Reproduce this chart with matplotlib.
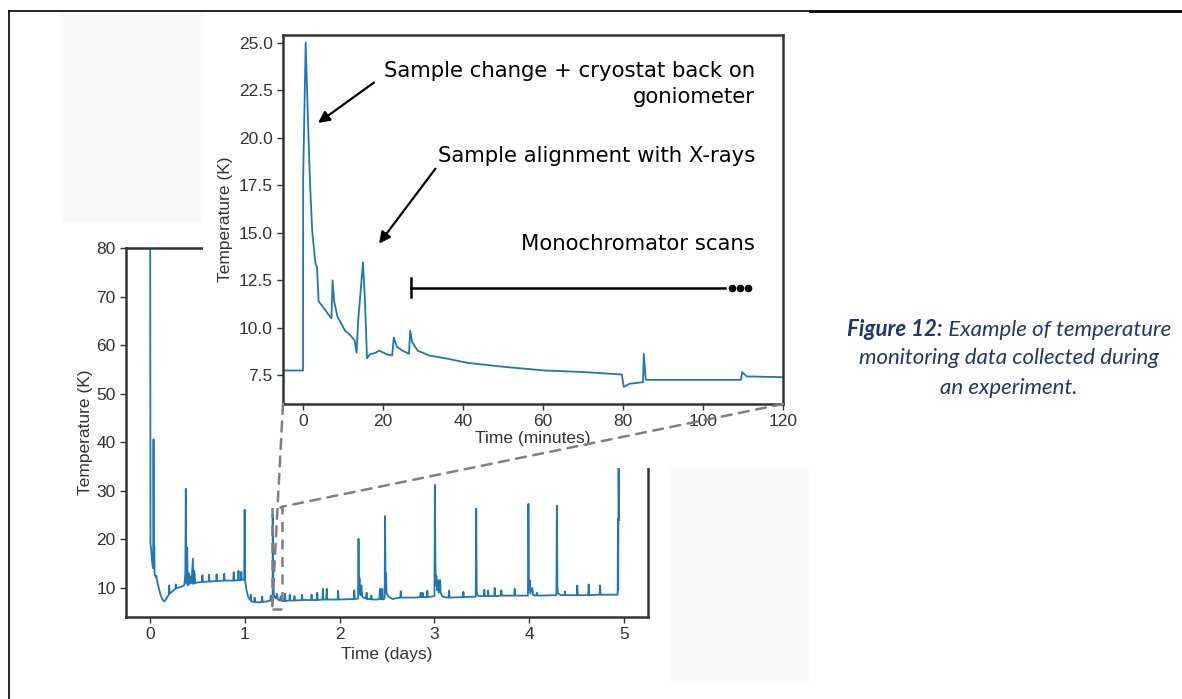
import matplotlib
matplotlib.use("Agg")
import matplotlib.pyplot as plt
from matplotlib.patches import Rectangle, ConnectionPatch
from matplotlib.lines import Line2D

W, H = 1182, 699

# main series: time in days, temperature in K
days = [0.005, 0.008, 0.015, 0.02, 0.03, 0.038, 0.040, 0.043, 0.048, 0.052,
        0.06, 0.07, 0.08, 0.095, 0.11, 0.13, 0.15, 0.165, 0.18, 0.20,
        0.205, 0.21, 0.24, 0.27, 0.275, 0.28, 0.31, 0.33, 0.35, 0.365,
        0.375, 0.38, 0.385, 0.39, 0.395, 0.40, 0.41, 0.42, 0.43, 0.44,
        0.455, 0.46, 0.47, 0.48, 0.50, 0.55, 0.555, 0.56, 0.62, 0.625,
        0.63, 0.70, 0.705, 0.71, 0.78, 0.785, 0.79, 0.88, 0.885, 0.89,
        0.93, 0.935, 0.94, 0.96, 0.965, 0.97, 0.995, 1.0, 1.005, 1.02,
        1.04, 1.06, 1.065, 1.07, 1.10, 1.105, 1.11, 1.15, 1.18, 1.185,
        1.19, 1.23, 1.27, 1.275, 1.28, 1.295, 1.2955, 1.30, 1.305, 1.31,
        1.33, 1.34, 1.35, 1.37, 1.38, 1.39, 1.42, 1.425, 1.43, 1.47,
        1.475, 1.48, 1.52, 1.525, 1.53, 1.60, 1.605, 1.61, 1.70, 1.705,
        1.71, 1.76, 1.765, 1.77, 1.82, 1.825, 1.83, 1.86, 1.865, 1.87,
        1.98, 1.985, 1.99, 2.15, 2.155, 2.16, 2.195, 2.20, 2.205, 2.21,
        2.215, 2.22, 2.23, 2.24, 2.25, 2.28, 2.285, 2.29, 2.33, 2.335,
        2.34, 2.40, 2.42, 2.425, 2.43, 2.445, 2.45, 2.455, 2.475, 2.48,
        2.485, 2.49, 2.495, 2.51, 2.53, 2.56, 2.60, 2.64, 2.645, 2.65,
        2.80, 2.85, 2.855, 2.86, 2.87, 2.875, 2.88, 2.92, 2.925, 2.93,
        3.00, 3.005, 3.01, 3.015, 3.02, 3.03, 3.04, 3.045, 3.06, 3.065,
        3.08, 3.10, 3.15, 3.155, 3.16, 3.30, 3.305, 3.31, 3.435, 3.44,
        3.445, 3.45, 3.47, 3.52, 3.525, 3.53, 3.56, 3.565, 3.57, 3.63,
        3.635, 3.64, 3.70, 3.705, 3.71, 3.84, 3.845, 3.85, 3.985, 3.99,
        3.995, 4.0, 4.005, 4.01, 4.03, 4.04, 4.07, 4.08, 4.09, 4.285,
        4.29, 4.295, 4.30, 4.32, 4.35, 4.37, 4.375, 4.38, 4.50, 4.505,
        4.51, 4.62, 4.625, 4.63, 4.74, 4.745, 4.75, 4.93, 4.933, 4.936,
        4.94, 4.945]
temps = [80.0, 19.0, 18.0, 16.5, 14.5, 14.0, 40.6, 14.2, 18.5, 13.0,
         12.3, 12.5, 11.2, 10.0, 8.8, 7.8, 7.2, 7.5, 7.9, 8.6,
         10.5, 8.8, 9.3, 9.8, 10.7, 9.9, 10.1, 10.2, 10.4, 10.6,
         13.0, 30.4, 11.0, 12.5, 18.3, 10.5, 13.0, 10.8, 12.4, 11.0,
         16.0, 10.8, 13.5, 11.0, 11.1, 11.2, 12.6, 11.2, 11.3, 12.7,
         11.3, 11.4, 12.8, 11.4, 11.5, 12.9, 11.5, 11.5, 13.2, 11.5,
         11.6, 13.5, 11.6, 11.6, 13.3, 11.7, 11.7, 26.1, 11.5, 9.5,
         8.0, 7.5, 8.6, 7.2, 7.1, 8.0, 7.1, 7.0, 7.1, 8.2,
         7.1, 7.2, 7.4, 8.4, 7.6, 7.75, 25.0, 14.0, 9.5, 8.3,
         7.8, 8.8, 7.6, 7.4, 8.3, 7.3, 7.3, 8.8, 7.3, 7.4,
         8.6, 7.4, 7.4, 8.3, 7.4, 7.5, 8.6, 7.5, 7.5, 8.6,
         7.5, 7.5, 9.0, 7.5, 7.6, 9.8, 7.6, 7.6, 9.8, 7.6,
         7.6, 9.4, 7.6, 7.7, 9.5, 7.7, 7.8, 20.1, 9.0, 12.0,
         9.5, 8.5, 10.5, 8.2, 8.0, 7.8, 9.0, 7.7, 7.7, 8.4,
         7.6, 7.6, 7.7, 9.8, 7.7, 7.7, 9.8, 7.6, 7.8, 24.8,
         9.5, 13.0, 8.8, 8.4, 8.0, 7.7, 7.9, 8.0, 9.3, 8.0,
         8.0, 8.1, 9.0, 8.1, 8.1, 9.0, 8.1, 8.1, 9.4, 8.1,
         8.3, 31.2, 15.6, 10.5, 12.5, 9.5, 11.6, 9.0, 11.6, 9.0,
         8.3, 8.1, 8.0, 9.4, 8.0, 8.1, 9.2, 8.1, 8.2, 26.3,
         9.5, 8.6, 8.3, 8.3, 9.6, 8.3, 8.3, 9.5, 8.3, 8.3,
         10.0, 8.3, 8.4, 9.5, 8.4, 8.4, 9.8, 8.4, 8.4, 27.3,
         12.5, 9.5, 11.5, 8.8, 10.0, 8.5, 8.4, 9.0, 8.4, 8.5,
         26.9, 10.5, 9.0, 8.6, 8.5, 8.5, 9.3, 8.5, 8.5, 10.5,
         8.5, 8.5, 10.7, 8.5, 8.6, 10.5, 8.6, 8.6, 24.2, 9.5,
         34.7, 24.0]

# inset series: time in minutes, temperature in K
minutes = [-5.0, 0.0, 0.05, 0.67, 1.35, 1.8, 2.3, 3.1, 3.5, 3.9,
           5.7, 7.1, 7.4, 7.8, 8.6, 10.5, 11.9, 12.9, 13.4, 13.8,
           15.0, 15.5, 16.0, 16.7, 18.2, 19.1, 20.1, 21.1, 22.3, 22.7,
           23.5, 24.9, 26.5, 26.8, 27.3, 28.7, 31.6, 36.4, 41.2, 50.9,
           60.5, 70.1, 79.7, 80.2, 81.6, 85.0, 85.2, 85.7, 109.5, 109.8,
           110.9, 120.0]
temps_inset = [7.76, 7.76, 18.0, 25.0, 20.2, 17.4, 15.1, 13.4, 13.2, 11.4,
               10.9, 10.5, 12.5, 11.4, 10.6, 9.86, 9.6, 9.34, 8.7, 10.4,
               13.45, 11.4, 8.4, 8.6, 8.7, 8.8, 8.7, 8.6, 8.55, 9.5,
               9.0, 8.8, 8.64, 9.86, 9.25, 8.8, 8.55, 8.37, 8.16, 7.94,
               7.76, 7.68, 7.55, 6.9, 7.06, 7.15, 8.64, 7.27, 7.27, 7.68,
               7.45, 7.41]

notes = ["Sample change + cryostat back on\ngoniometer",
         "Sample alignment with X-rays",
         "Monochromator scans"]
scan_start, scan_end, scan_level = 27.0, 105.5, 12.12
dots_x = [107.3, 109.3, 111.3]

caption_bold = "Figure 12:"
caption_lines = [" Example of temperature",
                 "monitoring data collected during",
                 "an experiment."]

line_color = "#1f77b4"
spine_color = "#333333"
tick_font = ["Liberation Sans", "DejaVu Sans"]
label_size = 12.5


def fx(px):
    return px / W


def fy(py):
    return 1 - py / H


def style_axes(ax):
    for sp in ax.spines.values():
        sp.set_color(spine_color)
        sp.set_linewidth(1.8)
    ax.tick_params(direction="out", length=4, width=1, color=spine_color,
                   labelcolor="#333333", labelsize=label_size)
    for lab in ax.get_xticklabels() + ax.get_yticklabels():
        lab.set_family(tick_font)


fig = plt.figure(figsize=(W / 100, H / 100), dpi=100)

# faint background patches of the pasted picture
for x0, y0, x1, y1 in [(61, 12, 203, 223), (670, 468, 809, 682)]:
    fig.add_artist(Rectangle((fx(x0), fy(y1)), fx(x1) - fx(x0), fy(y0) - fy(y1),
                             transform=fig.transFigure, facecolor="#fafafa",
                             edgecolor="none", zorder=0))

# main axes
ax = fig.add_axes([fx(126), fy(617), fx(648) - fx(126), fy(248) - fy(617)])
ax.plot(days, temps, color=line_color, lw=1.3)
ax.set_xlim(-0.25, 5.25)
ax.set_ylim(4, 80)
ax.set_xticks(range(0, 6))
ax.set_yticks(range(10, 81, 10))
style_axes(ax)
ax.set_xlabel("Time (days)", family=tick_font, fontsize=label_size, color="#333333")
ax.set_ylabel("Temperature (K)", family=tick_font, fontsize=label_size, color="#333333")
ax.xaxis.set_label_coords(0.5, -0.082)
ax.yaxis.set_label_coords(-0.063, 0.5)

# zoom rectangle
ax.add_patch(Rectangle((1.29, 5.7), 0.10, 21.0, fill=False, edgecolor="#808080",
                       lw=1.8, linestyle=(0, (4, 3)), zorder=5))

# white cover where the inset picture sits
fig.add_artist(Rectangle((fx(203), fy(468)), fx(809) - fx(203), fy(12) - fy(468),
                         transform=fig.transFigure, facecolor="white",
                         edgecolor="none", zorder=3))

# inset axes
ins = fig.add_axes([fx(283), fy(404), fx(783) - fx(283), fy(35) - fy(404)], zorder=4)
ins.plot(minutes, temps_inset, color=line_color, lw=1.3)
ins.set_xlim(-5, 120)
ins.set_ylim(6.0, 25.4)
ins.set_xticks(range(0, 121, 20))
ins.set_yticks([7.5, 10.0, 12.5, 15.0, 17.5, 20.0, 22.5, 25.0])
ins.set_yticklabels([f"{v:.1f}" for v in ins.get_yticks()])
style_axes(ins)
ins.set_xlabel("Time (minutes)", family=tick_font, fontsize=label_size, color="#333333")
ins.set_ylabel("Temperature (K)", family=tick_font, fontsize=label_size, color="#333333")
ins.xaxis.set_label_coords(0.5, -0.073)
ins.yaxis.set_label_coords(-0.1, 0.5)

ann = dict(family="DejaVu Sans", fontsize=15.3, color="black", ha="right",
           va="center", multialignment="right")
arrow = dict(arrowstyle="-|>", color="black", lw=1.6, mutation_scale=17,
             shrinkA=0, shrinkB=0)
ins.text(113.0, 22.83, notes[0], linespacing=1.4, **ann)
ins.annotate("", xy=(3.75, 20.78), xytext=(17.75, 22.9), arrowprops=arrow)
ins.text(113.0, 19.05, notes[1], **ann)
ins.annotate("", xy=(19.0, 14.43), xytext=(33.1, 18.37), arrowprops=arrow)
ins.text(113.0, 14.43, notes[2], **ann)
ins.plot([scan_start, scan_end], [scan_level, scan_level], color="black", lw=1.8)
ins.plot([scan_start, scan_start], [scan_level - 0.5, scan_level + 0.5],
         color="black", lw=1.8)
ins.plot(dots_x, [scan_level] * 3, "o", color="black", ms=4.5)

# connector lines from the zoom box to the inset
for xa, xb, yb in [(0, 1.29, 5.7), (1, 1.39, 26.7)]:
    con = ConnectionPatch(xyA=(xa, 0), coordsA=ins.transAxes, xyB=(xb, yb),
                          coordsB=ax.transData, color="#808080", lw=1.8,
                          linestyle=(0, (4, 3)), zorder=10)
    fig.add_artist(con)

# page borders
fig.add_artist(Line2D([fx(9), fx(810)], [fy(11), fy(11)], transform=fig.transFigure,
                      color="black", lw=1.2))
fig.add_artist(Line2D([fx(810), fx(1182)], [fy(11), fy(11)], transform=fig.transFigure,
                      color="black", lw=2.0))
fig.add_artist(Line2D([fx(9), fx(9)], [fy(11), fy(699)], transform=fig.transFigure,
                      color="black", lw=1.2))

# caption
cap = dict(family=["Lato", "DejaVu Sans"], fontsize=16, color="#1f3864",
           style="italic", va="center")
renderer = fig.canvas.get_renderer()
t1 = fig.text(0, fy(330), caption_bold, weight="bold", ha="left", **cap)
t2 = fig.text(0, fy(330), caption_lines[0], ha="left", **cap)
w1 = t1.get_window_extent(renderer).width
w2 = t2.get_window_extent(renderer).width
left = 1009 - (w1 + w2) / 2
t1.set_x(fx(left))
t2.set_x(fx(left + w1))
fig.text(fx(1009), fy(358), caption_lines[1], ha="center", **cap)
fig.text(fx(1009), fy(388), caption_lines[2], ha="center", **cap)

fig.savefig("out.png", dpi=100)
